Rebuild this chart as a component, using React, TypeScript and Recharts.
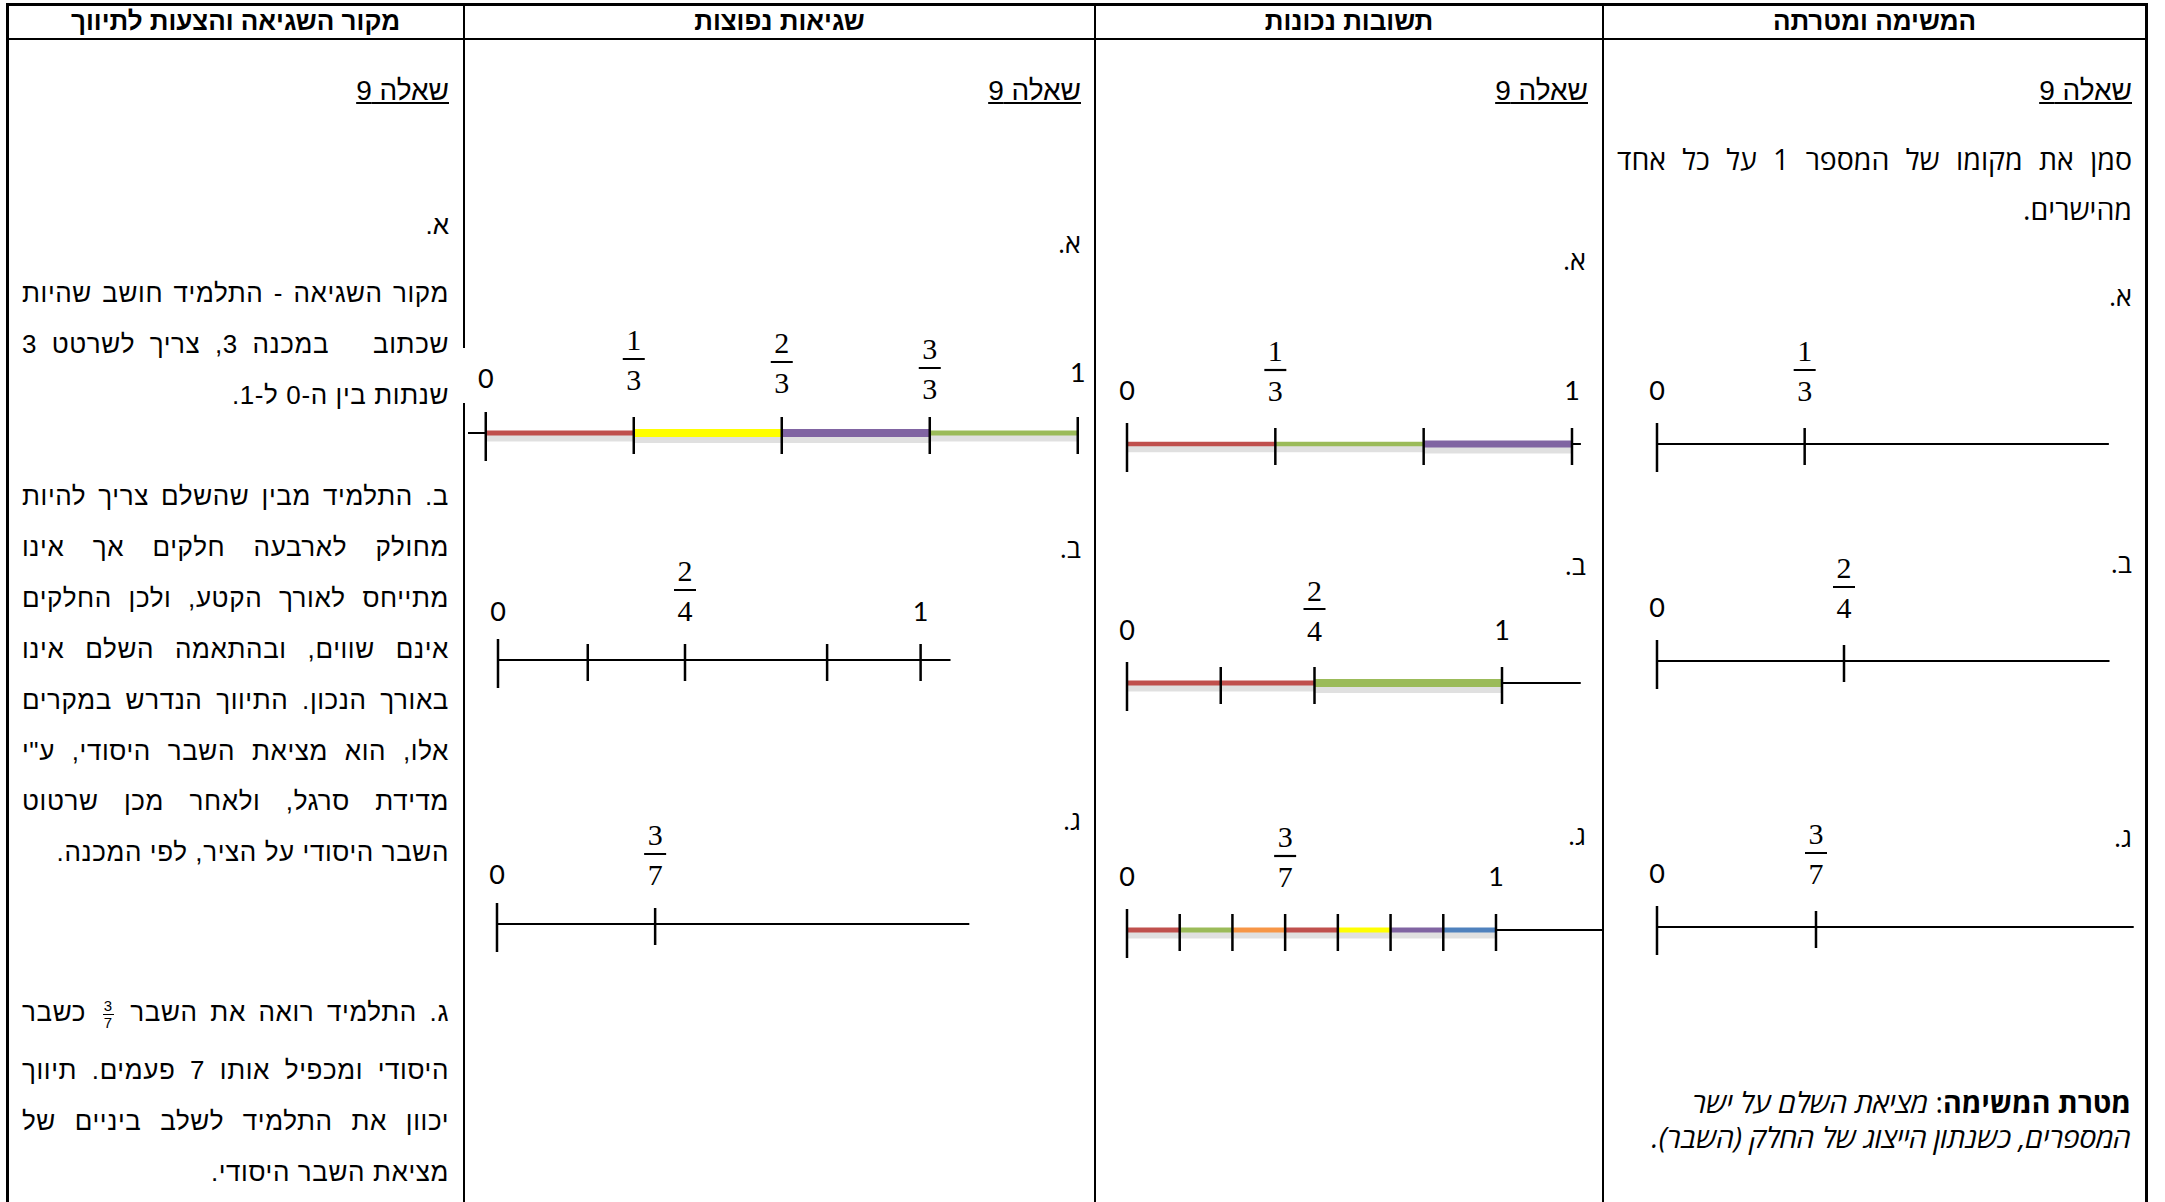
import React from "react";
import { ScatterChart, Scatter, XAxis, YAxis, ReferenceLine } from "recharts";

const PAGE_W = 2165;
const PAGE_H = 1202;

// ---- texts ----
const HEADERS = ["מקור השגיאה והצעות לתיווך", "שגיאות נפוצות", "תשובות נכונות", "המשימה ומטרתה"];
const QUESTION = "שאלה 9";
const PART_LABELS = ["א.", "ב.", "ג."];
const TASK_TEXT = ["סמן את מקומו של המספר 1 על כל אחד", "מהישרים."];
const GOAL_TITLE = "מטרת המשימה";
const GOAL_LINES = ["מציאת השלם על ישר", "המספרים, כשנתון הייצוג של החלק (השבר)."];
const SOURCE_LINES = [
  "מקור השגיאה - התלמיד חושב שהיות",
  "שכתוב \u00a0 במכנה 3, צריך לשרטט 3",
  "שנתות בין ה-0 ל-1.",
  "ב. התלמיד מבין שהשלם צריך להיות",
  "מחולק לארבעה חלקים אך אינו",
  "מתייחס לאורך הקטע, ולכן החלקים",
  "אינם שווים, ובהתאמה השלם אינו",
  "באורך הנכון. התיווך הנדרש במקרים",
  "אלו, הוא מציאת השבר היסודי, ע\"י",
  "מדידת סרגל, ולאחר מכן שרטוט",
  "השבר היסודי על הציר, לפי המכנה.",
  "ג. התלמיד רואה את השבר {3/7} כשבר",
  "היסודי ומכפיל אותו 7 פעמים. תיווך",
  "יכוון את התלמיד לשלב ביניים של",
  "מציאת השבר היסודי.",
];
const SOURCE_PARAGRAPH_ENDS = [2, 10, 14];

// ---- number lines: task column ----
const TASK_A_TICKS = [0, 1 / 3];
const TASK_A_LABELS = ["0", "1/3"];
const TASK_B_TICKS = [0, 2 / 4];
const TASK_B_LABELS = ["0", "2/4"];
const TASK_C_TICKS = [0, 3 / 7];
const TASK_C_LABELS = ["0", "3/7"];
const TASK_EXTENT = [[0, 1.02], [0, 1.21], [0, 1.285]];

// ---- number lines: correct answers ----
const RIGHT_A_TICKS = [0, 1 / 3, 2 / 3, 1];
const RIGHT_A_LABELS = ["0", "1/3", "", "1"];
const RIGHT_A_PARTS = [0, 1 / 3, 2 / 3, 1];
const RIGHT_B_TICKS = [0, 1 / 4, 2 / 4, 1];
const RIGHT_B_LABELS = ["0", "", "2/4", "1"];
const RIGHT_B_PARTS = [0, 2 / 4, 1];
const RIGHT_C_TICKS = [0, 1 / 7, 2 / 7, 3 / 7, 4 / 7, 5 / 7, 6 / 7, 1];
const RIGHT_C_LABELS = ["0", "", "", "3/7", "", "", "", "1"];
const RIGHT_C_PARTS = [0, 1 / 7, 2 / 7, 3 / 7, 4 / 7, 5 / 7, 6 / 7, 1];
const RIGHT_EXTENT = [[0, 1.02], [0, 1.21], [0, 1.29]];

// ---- number lines: common errors ----
const ERR_A_TICKS = [0, 1 / 3, 2 / 3, 3 / 3, 4 / 3];
const ERR_A_LABELS = ["0", "1/3", "2/3", "3/3", "1"];
const ERR_A_PARTS = [0, 1 / 3, 2 / 3, 3 / 3, 4 / 3];
const ERR_B_TICKS = [0, 0.24, 2 / 4, 0.88, 1.13];
const ERR_B_LABELS = ["0", "", "2/4", "", "1"];
const ERR_C_TICKS = [0, 3 / 7];
const ERR_C_LABELS = ["0", "3/7"];
const ERR_EXTENT = [[-0.04, 1.333], [0, 1.21], [0, 1.28]];

const RED = "#C0504D";
const GREEN = "#9BBB59";
const PURPLE = "#8064A2";
const YELLOW = "#FFFF00";
const ORANGE = "#F79646";
const BLUE = "#4F81BD";

const SANS = '"Liberation Sans", Arial, sans-serif';
const HEB = '"Open Sans", "DejaVu Sans", sans-serif';
const LABEL_FONT = { fontFamily: "Lato, sans-serif", fontSize: 27, fill: "#000" };
const FRAC_FONT = { fontFamily: '"Liberation Serif", serif', fontSize: 30, fill: "#000" };

type LineCfg = {
  x0: number;
  unit: number;
  y: number;
  extent: number[];
  ticks: number[];
  labels: string[];
  parts?: number[];
  colors?: string[];
  widths?: number[];
  textLift?: number;
  barLift?: number;
  lifts?: number[];
};

const NUMBER_LINES: LineCfg[] = [
  { x0: 1657, unit: 443, y: 444, extent: TASK_EXTENT[0], ticks: TASK_A_TICKS, labels: TASK_A_LABELS },
  { x0: 1657, unit: 374, y: 661, extent: TASK_EXTENT[1], ticks: TASK_B_TICKS, labels: TASK_B_LABELS },
  { x0: 1657, unit: 371, y: 927, extent: TASK_EXTENT[2], ticks: TASK_C_TICKS, labels: TASK_C_LABELS },
  {
    x0: 1127, unit: 445, y: 444, extent: RIGHT_EXTENT[0], ticks: RIGHT_A_TICKS, labels: RIGHT_A_LABELS,
    parts: RIGHT_A_PARTS, colors: [RED, GREEN, PURPLE], widths: [4.5, 4.5, 7],
  },
  {
    x0: 1127, unit: 375, y: 683, extent: RIGHT_EXTENT[1], ticks: RIGHT_B_TICKS, labels: RIGHT_B_LABELS,
    parts: RIGHT_B_PARTS, colors: [RED, GREEN], widths: [5, 8],
  },
  {
    x0: 1127, unit: 369, y: 930, extent: RIGHT_EXTENT[2], ticks: RIGHT_C_TICKS, labels: RIGHT_C_LABELS,
    parts: RIGHT_C_PARTS, colors: [RED, GREEN, ORANGE, RED, YELLOW, PURPLE, BLUE], widths: [5, 5, 5, 5, 5, 5, 5],
  },
  {
    x0: 486, unit: 444, y: 433, extent: ERR_EXTENT[0], ticks: ERR_A_TICKS, labels: ERR_A_LABELS,
    parts: ERR_A_PARTS, colors: [RED, YELLOW, PURPLE, GREEN], widths: [5, 8, 8, 5], lifts: [55, 74, 71, 65, 61],
  },
  { x0: 498, unit: 374, y: 660, extent: ERR_EXTENT[1], ticks: ERR_B_TICKS, labels: ERR_B_LABELS, textLift: 49, barLift: 70 },
  { x0: 497, unit: 369, y: 924, extent: ERR_EXTENT[2], ticks: ERR_C_TICKS, labels: ERR_C_LABELS, textLift: 50, barLift: 70 },
];

function TickMark(props: any) {
  const { cx, cy, payload, line } = props;
  const first = payload.i === 0;
  const up = first ? 21 : 16;
  const down = first ? 28 : 21;
  const label: string = payload.label;
  const lift = line.lifts ? line.lifts[payload.i] : undefined;
  let labelEl: React.ReactNode = null;
  if (label.includes("/")) {
    const [n, d] = label.split("/");
    const bar = cy - (lift ?? line.barLift ?? 74);
    labelEl = (
      <g>
        <text x={cx} y={bar - 19} textAnchor="middle" dominantBaseline="central" style={FRAC_FONT}>{n}</text>
        <line x1={cx - 11} x2={cx + 11} y1={bar} y2={bar} stroke="#000" strokeWidth={2.2} />
        <text x={cx} y={bar + 21} textAnchor="middle" dominantBaseline="central" style={FRAC_FONT}>{d}</text>
      </g>
    );
  } else if (label) {
    const ty = cy - (lift ?? line.textLift ?? 54);
    labelEl = (
      <text x={cx} y={ty} textAnchor="middle" dominantBaseline="central" style={LABEL_FONT}>{label}</text>
    );
  }
  return (
    <g>
      <line x1={cx} x2={cx} y1={cy - up} y2={cy + down} stroke="#000" strokeWidth={2.5} />
      {labelEl}
    </g>
  );
}

function NumberLine({ line }: { line: LineCfg }) {
  const pad = 40;
  const [from, to] = line.extent;
  const lo = from - pad / line.unit;
  const hi = to + pad / line.unit;
  const width = (hi - lo) * line.unit;
  const height = 260;
  const left = line.x0 + lo * line.unit;
  const top = line.y - height / 2;
  const points = line.ticks.map((v, i) => ({ x: v, y: 0, label: line.labels[i], i }));
  const parts = line.parts ?? [];
  const segs = parts.slice(1).map((b, i) => ({ a: parts[i], b, color: line.colors![i], w: line.widths![i] }));
  return (
    <div style={{ position: "absolute", left, top, width, height }}>
      <ScatterChart width={width} height={height} margin={{ top: 0, right: 0, bottom: 0, left: 0 }}>
        <XAxis type="number" dataKey="x" domain={[lo, hi]} hide allowDataOverflow />
        <YAxis type="number" dataKey="y" domain={[-1, 1]} hide allowDataOverflow />
        <ReferenceLine segment={[{ x: from, y: 0 }, { x: to, y: 0 }]} stroke="#000" strokeWidth={2} />
        {segs.map((s, i) => (
          <ReferenceLine
            key={"sh" + i}
            segment={[{ x: s.a, y: -0.03 }, { x: s.b, y: -0.03 }]}
            stroke="#000"
            strokeOpacity={0.12}
            strokeWidth={s.w + 4}
          />
        ))}
        {segs.map((s, i) => (
          <ReferenceLine
            key={"sg" + i}
            segment={[{ x: s.a, y: 0 }, { x: s.b, y: 0 }]}
            stroke={s.color}
            strokeWidth={s.w}
          />
        ))}
        <Scatter data={points} isAnimationActive={false} shape={(p: any) => <TickMark {...p} line={line} />} />
      </ScatterChart>
    </div>
  );
}

function RText({ right, y, size, font, children, style }: any) {
  const lh = size * 1.4;
  return (
    <div
      style={{
        position: "absolute",
        right: PAGE_W - right,
        top: y - lh / 2,
        lineHeight: lh + "px",
        fontSize: size,
        fontFamily: font,
        direction: "rtl",
        whiteSpace: "nowrap",
        ...style,
      }}
    >
      {children}
    </div>
  );
}

function InlineFraction({ n, d }: { n: string; d: string }) {
  return (
    <span style={{ display: "inline-flex", flexDirection: "column", alignItems: "center", verticalAlign: "middle", fontSize: 15, lineHeight: "16px", margin: "0 4px" }}>
      <span style={{ borderBottom: "1.5px solid #000", padding: "0 1px" }}>{n}</span>
      <span>{d}</span>
    </span>
  );
}

function SourceLine({ text, y, last }: { text: string; y: number; last: boolean }) {
  const m = text.match(/^(.*)\{(\d+)\/(\d+)\}(.*)$/);
  const content = m ? (
    <>
      {m[1]}
      <InlineFraction n={m[2]} d={m[3]} />
      {m[4]}
    </>
  ) : (
    text
  );
  return (
    <div
      style={{
        position: "absolute",
        left: 22,
        width: 427,
        top: y - 18,
        lineHeight: "36px",
        fontSize: 26,
        fontFamily: SANS,
        letterSpacing: 0.6,
        direction: "rtl",
        textAlign: last ? "right" : "justify",
        textAlignLast: last ? "right" : "justify",
        whiteSpace: "nowrap",
      }}
    >
      {content}
    </div>
  );
}

const COL_EDGES = [7, 464, 1095, 1603, 2146];
const SOURCE_Y = [293, 344, 395, 496, 547, 598, 649, 700, 751, 801, 852, 1012, 1070, 1121, 1172];
const QUESTION_RIGHT = [449, 1081, 1588, 2132];
const PART_POS = [
  { right: 1081, ys: [243, 548, 820] },
  { right: 1586, ys: [260, 565, 835] },
  { right: 2132, ys: [296, 563, 837] },
];

export default function App() {
  return (
    <div style={{ position: "absolute", left: 0, top: 0, width: PAGE_W, height: PAGE_H, background: "#fff", overflow: "hidden", color: "#000" }}>
      {/* table rules */}
      <div style={{ position: "absolute", left: 6, top: 3, width: 2142, height: 3, background: "#000" }} />
      <div style={{ position: "absolute", left: 6, top: 38, width: 2142, height: 2, background: "#000" }} />
      {COL_EDGES.map((x, i) => (
        <div key={i} style={{ position: "absolute", left: x - 1, top: 3, width: i === 0 || i === 4 ? 3 : 2, height: PAGE_H, background: "#000" }} />
      ))}

      {/* headers */}
      {HEADERS.map((h, i) => (
        <div
          key={h}
          style={{
            position: "absolute",
            left: COL_EDGES[i],
            width: COL_EDGES[i + 1] - COL_EDGES[i],
            top: 5,
            height: 33,
            lineHeight: "33px",
            textAlign: "center",
            fontFamily: SANS,
            fontWeight: 700,
            fontSize: 26,
            direction: "rtl",
          }}
        >
          {h}
        </div>
      ))}

      {/* question titles */}
      {QUESTION_RIGHT.map((r, i) => (
        <RText key={i} right={r} y={91} size={28} font={SANS} style={{ textDecoration: "underline" }}>
          {QUESTION}
        </RText>
      ))}

      {/* part letters */}
      <RText right={449} y={225} size={26} font={SANS}>{PART_LABELS[0]}</RText>
      {PART_POS.map((col, ci) =>
        col.ys.map((y, j) => (
          <RText key={ci + "-" + j} right={col.right} y={y} size={27} font={HEB}>{PART_LABELS[j]}</RText>
        ))
      )}

      {/* source-of-error text */}
      {SOURCE_LINES.map((t, i) => (
        <SourceLine key={i} text={t} y={SOURCE_Y[i]} last={SOURCE_PARAGRAPH_ENDS.includes(i)} />
      ))}

      {/* task text */}
      <div
        style={{
          position: "absolute", left: 1617, width: 515, top: 159 - 20, lineHeight: "40px", fontSize: 28.5,
          fontFamily: HEB, direction: "rtl", textAlign: "justify", textAlignLast: "justify", whiteSpace: "nowrap",
        }}
      >
        {TASK_TEXT[0]}
      </div>
      <RText right={2132} y={210} size={28.5} font={HEB}>{TASK_TEXT[1]}</RText>

      {/* goal */}
      <RText right={2131} y={1103} size={28.5} font={HEB}>
        <b>{GOAL_TITLE}</b>: <i>{GOAL_LINES[0]}</i>
      </RText>
      <RText right={2131} y={1137} size={28.5} font={HEB} style={{ lineHeight: "34px", top: 1137 - 17 }}>
        <i>{GOAL_LINES[1]}</i>
      </RText>

      {/* gap in the rule behind the first error drawing */}
      <div style={{ position: "absolute", left: 461, top: 348, width: 7, height: 55, background: "#fff" }} />

      {NUMBER_LINES.map((l, i) => (
        <NumberLine key={i} line={l} />
      ))}
    </div>
  );
}
